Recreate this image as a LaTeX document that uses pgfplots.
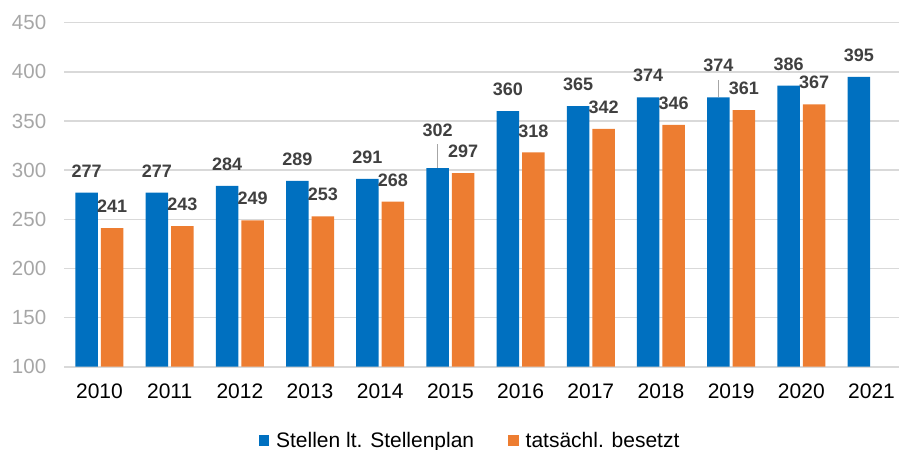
\documentclass[border=0pt]{standalone}
\usepackage{pgfplots}
\pgfplotsset{compat=1.18}
\usepackage{pgfplotstable}
\usepackage{fontspec}
\setmainfont{Liberation Sans}
\definecolor{cblue}{HTML}{0070C0}
\definecolor{corange}{HTML}{ED7D31}
\definecolor{gridc}{HTML}{D9D9D9}
\definecolor{ytc}{HTML}{A6A6A6}
\definecolor{labc}{HTML}{404040}

\pgfplotstableread{
x  plan  dy  err
0  277   15  0
1  277   15  0
2  284   15  0
3  289   15  0
4  291   15  0
5  302   31  24.4
6  360   15  0
7  365   15  0
8  374   15  0
9  374   25  17.3
10 386   15  0
11 395   15  0
}\plantable

\pgfplotstableread{
x  ist
0  241
1  243
2  249
3  253
4  268
5  297
6  318
7  342
8  346
9  361
10 367
}\isttable

\begin{document}
\begin{tikzpicture}
\useasboundingbox (-64.4bp,-83.3bp) rectangle (834.6bp,366.7bp);
\begin{axis}[
  at={(0,0)}, anchor=south west,
  scale only axis,
  width=842.2bp, height=344bp,
  xmin=-0.5, xmax=11.5,
  ymin=100, ymax=450,
  ybar=3bp, bar width=22.5bp,
  xtick={0,...,11},
  xticklabels={2010,2011,2012,2013,2014,2015,2016,2017,2018,2019,2020,2021},
  ytick={100,150,...,450},
  /pgf/number format/assume math mode=true,
  major tick length=0pt,
  axis x line=bottom, axis y line=left,
  x axis line style={draw=gridc, line width=2bp, -},
  y axis line style={draw=none},
  ymajorgrids,
  grid style={draw=gridc, line width=1.5bp},
  xticklabel style={anchor=north, inner sep=0pt, yshift=-16.6bp, font=\fontsize{21bp}{25bp}\selectfont, text=black},
  yticklabel style={anchor=east, inner sep=0pt, xshift=-18bp, font=\fontsize{20.5bp}{25bp}\selectfont, text=ytc},
  nodes near coords,
  nodes near coords style={anchor=south, inner sep=0pt, font=\fontsize{18bp}{22bp}\selectfont\bfseries, text=labc},
  legend columns=-1,
  legend style={at={(0.4816,-0.2145)}, anchor=center, draw=none, fill=none, inner sep=0pt,
    font=\fontsize{21bp}{25bp}\selectfont, text=black,
    column sep=5bp,
    /tikz/every even column/.append style={column sep=32bp}},
  legend image code/.code={\fill[#1] (0bp,-5.25bp) rectangle (10.5bp,5.25bp);},
]
\addplot[fill=cblue, draw=none,
  visualization depends on={\thisrow{dy} \as \dy},
  every node near coord/.append style={yshift=\dy bp},
  error bars/.cd, y dir=plus, y explicit, error mark=none,
  error bar style={draw=ytc, line width=1.2bp}]
  table[x=x, y=plan, y error=err] {\plantable};
\addlegendentry{Stellen lt. Stellenplan}
\addplot[fill=corange, draw=none,
  every node near coord/.append style={yshift=15bp}]
  table[x=x, y=ist] {\isttable};
\addlegendentry{tatsächl. besetzt}
\end{axis}
\end{tikzpicture}
\end{document}
